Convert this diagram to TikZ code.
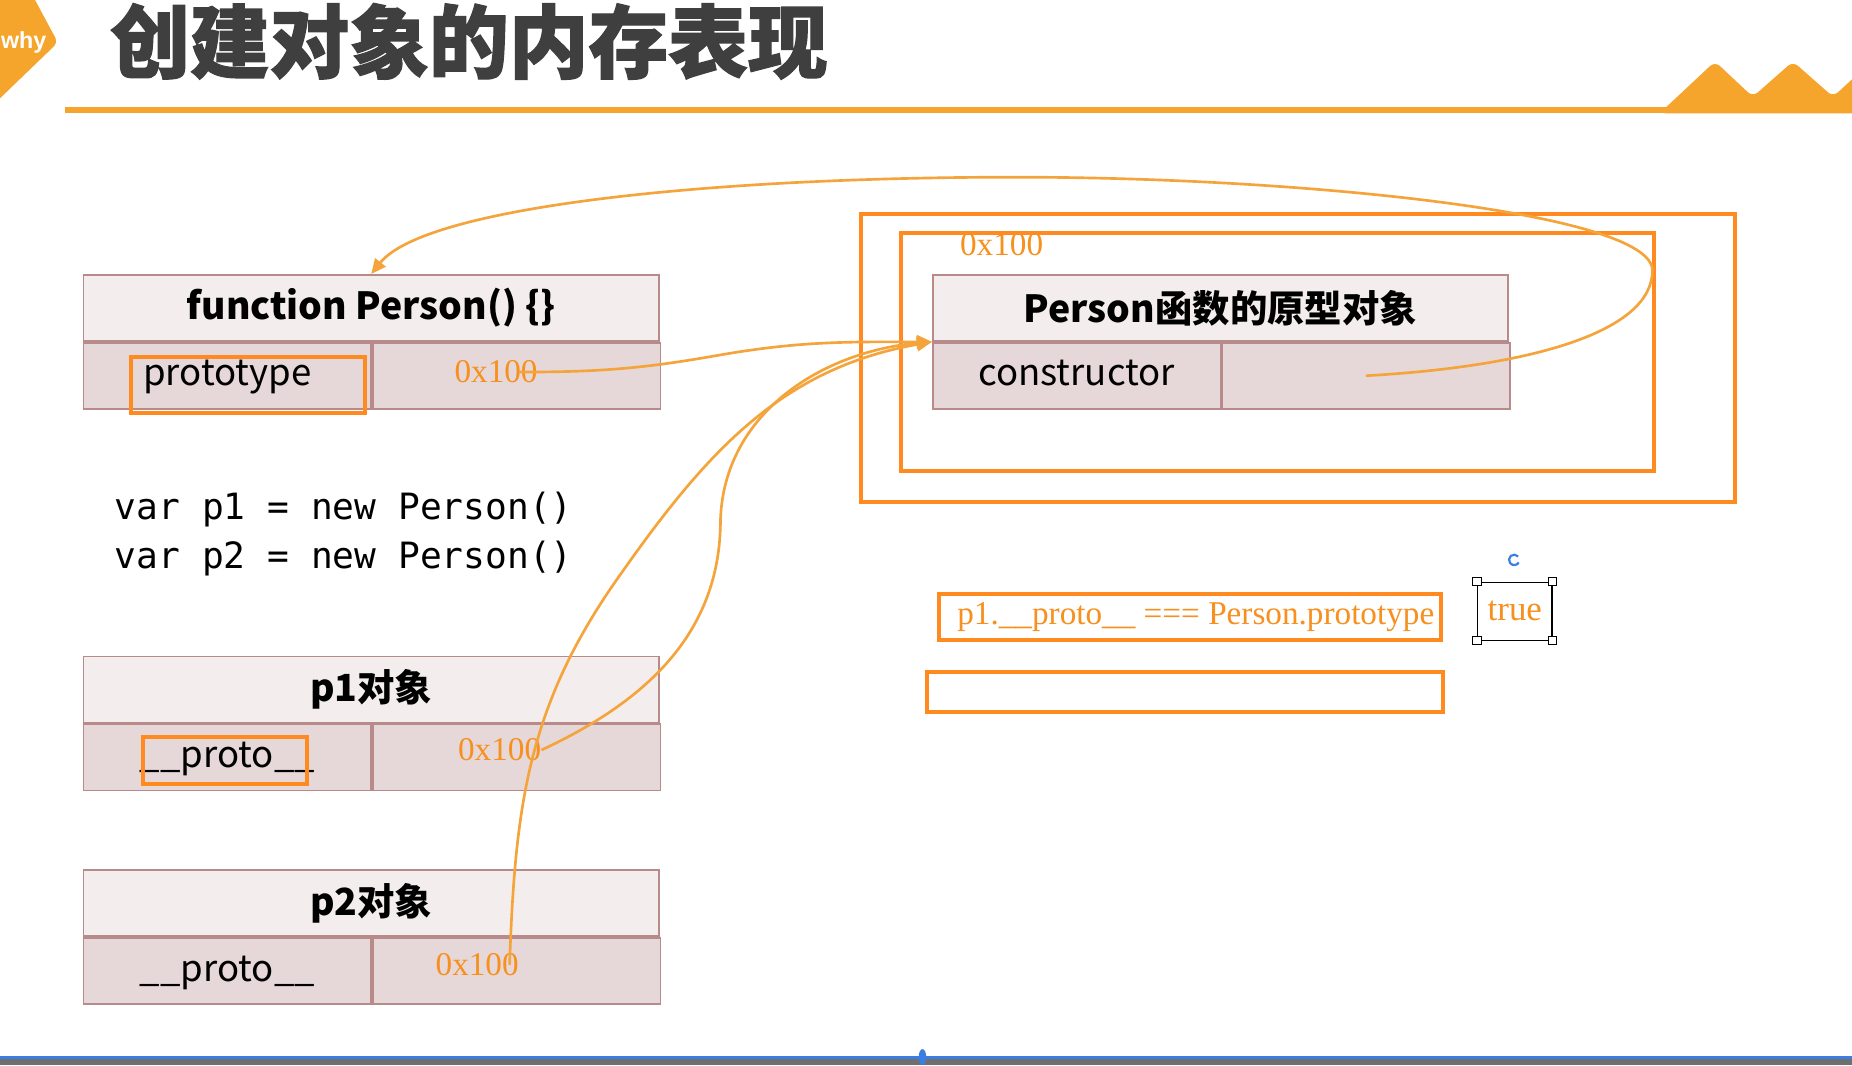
\documentclass[tikz,border=0pt]{standalone}
\usepackage{fontspec}
\usetikzlibrary{arrows.meta}
\newfontfamily\CjkFont{Noto Sans CJK SC}
\newfontfamily\TitleFont{Noto Sans CJK SC}[BoldFeatures={FakeBold=1.5}]
\newfontfamily\CodeFont{DejaVu Sans Mono}
\newfontfamily\AddrFont{Liberation Serif}
\newfontfamily\TagFont{Liberation Sans}
\definecolor{brandorange}{HTML}{F6A52C}
\definecolor{boxorange}{HTML}{FF8A1F}
\definecolor{linkorange}{HTML}{F4A43A}
\definecolor{addrorange}{HTML}{F7901E}
\definecolor{headfill}{HTML}{F4EDED}
\definecolor{rowfill}{HTML}{E6D8D8}
\definecolor{cellline}{HTML}{B98A8A}
\definecolor{titlegray}{HTML}{3F3F3F}
\definecolor{barblue}{HTML}{3B7DE3}
\definecolor{bargray}{HTML}{6F6F6F}
\newcommand{\AddrText}[1]{{\AddrFont\fontsize{20}{22}\selectfont #1}}
\tikzset{
  headcell/.style={draw=cellline, line width=1pt, fill=headfill, minimum width=12.175cm, minimum height=1.4cm, inner sep=0pt, font=\CjkFont\bfseries\fontsize{22.5}{26}\selectfont},
  rowcell/.style={draw=cellline, line width=1pt, fill=rowfill, minimum width=6.0875cm, minimum height=1.4cm, inner sep=0pt, text height=1.3em, text depth=0.1em, font=\CjkFont\fontsize{22}{24}\selectfont},
  addr/.style={text=addrorange, inner sep=0pt},
  hilite/.style={draw=boxorange, line width=2.4pt},
  ptr/.style={draw=linkorange, line width=1.6pt, -{Triangle[length=9pt,width=8pt]}},
  handle/.style={draw=black, fill=white, line width=0.6pt, minimum size=0.17cm, inner sep=0pt}
}
\begin{document}
\begin{tikzpicture}[x=0.025cm, y=-0.025cm]
    \fill[white] (0,0) rectangle (1568,902);
    \useasboundingbox (0,0) rectangle (1568,902);
    % header
    \fill[brandorange, rounded corners=3pt] (-5,-5) -- (27,-5) -- (49,36) -- (-5,88) -- cycle;
    \node[text=white, inner sep=0pt, font=\TagFont\bfseries\fontsize{14}{16}\selectfont] (whytag) at (20,36) {why};
    \node[anchor=west, inner sep=0pt, text=titlegray, font=\TitleFont\bfseries\fontsize{48}{50}\selectfont] (title) at (93,35) {创建对象的内存表现};
    \fill[brandorange] (55,91) rectangle (1420,96);
    \fill[brandorange, rounded corners=4pt] (1405,96) -- (1452,52) -- (1484,82) -- (1518,52) -- (1552,82) -- (1580,56) -- (1580,96) -- cycle;
    %
    \draw[hilite] (729,181) rectangle (1469,425);
    \draw[hilite] (763,197) rectangle (1400,399);
    \node[addr] (protoaddr) at (848,207) {\AddrText{0x100}};
    %
    \node[headcell, anchor=north west] (fnhead) at (70,232) {function Person() \{\}};
    \node[rowcell, anchor=north west] (fnkey) at (fnhead.south west) {prototype};
    \node[rowcell, anchor=north west] (fnval) at (fnkey.north east) {};
    \node[headcell, anchor=north west] (protohead) at (789,232) {Person函数的原型对象};
    \node[rowcell, anchor=north west] (protokey) at (protohead.south west) {constructor};
    \node[rowcell, anchor=north west] (protoval) at (protokey.north east) {};
    \node[headcell, anchor=north west] (p1head) at (70,555) {p1对象};
    \node[rowcell, anchor=north west] (p1key) at (p1head.south west) {\_\_proto\_\_};
    \node[rowcell, anchor=north west] (p1val) at (p1key.north east) {};
    \node[headcell, anchor=north west] (p2head) at (70,736) {p2对象};
    \node[rowcell, anchor=north west] (p2key) at (p2head.south west) {\_\_proto\_\_};
    \node[rowcell, anchor=north west] (p2val) at (p2key.north east) {};
    %
    \draw[hilite] (111,302) rectangle (309,350);
    \draw[hilite] (121,624) rectangle (260,664);
    \node[addr] (fnaddr) at (420,315) {\AddrText{0x100}};
    \node[addr] (p1addr) at (423,635) {\AddrText{0x100}};
    \node[addr] (p2addr) at (404,817) {\AddrText{0x100}};
    %
    \node[anchor=base west, inner sep=0pt, font=\CodeFont\fontsize{21.8}{24}\selectfont] (code1) at (97,440) {var p1 = new Person()};
    \node[anchor=base west, inner sep=0pt, font=\CodeFont\fontsize{21.8}{24}\selectfont] (code2) at (97,481) {var p2 = new Person()};
    %
    \node[draw=boxorange, line width=2.4pt, minimum width=10.625cm, minimum height=0.975cm, inner sep=0pt] (eqbox) at (1007.5,522.5) {};
    \node[addr, anchor=west] (eqtext) at ([xshift=0.425cm]eqbox.west) {\AddrText{p1.\_\_proto\_\_ === Person.prototype}};
    \draw[hilite] (785,569) rectangle (1222,603);
    \node[draw=black, line width=0.7pt, minimum width=1.575cm, minimum height=1.225cm, inner sep=0pt, text=addrorange, font=\AddrFont\fontsize{21}{22}\selectfont] (truebox) at (1282.5,517.5) {true};
    \foreach \c in {north west, north east, south west, south east}
      \node[handle] at (truebox.\c) {};
    \draw[barblue, line width=1.3pt] (1282,474) ++(40:0.11cm) arc (40:330:0.11cm);
    %
    \draw[ptr] ([xshift=-0.4cm]fnaddr.east) to[out=0,in=190] (607,301) to[out=10,in=180] (protohead.south west);
    \draw[ptr] (p1addr.east) to[out=25,in=-90] (610,440) to[out=88,in=185] (protohead.south west);
    \draw[ptr] ([xshift=-0.2cm]p2addr.east) to[out=88,in=-125] (522,491) to[out=55,in=190] (protohead.south west);
    \draw[ptr] (protoval.center) .. controls (1300,310) and (1399,280) .. (1399,229)
      .. controls (1399,180) and (1100,150) .. (860,150)
      .. controls (600,150) and (360,175) .. (fnhead.north);
    %
    \fill[barblue] (0,894) rectangle (1568,897);
    \fill[bargray] (0,897) rectangle (1568,902);
    \fill[barblue] (781,895) ellipse (0.08cm and 0.17cm);
\end{tikzpicture}
\end{document}
